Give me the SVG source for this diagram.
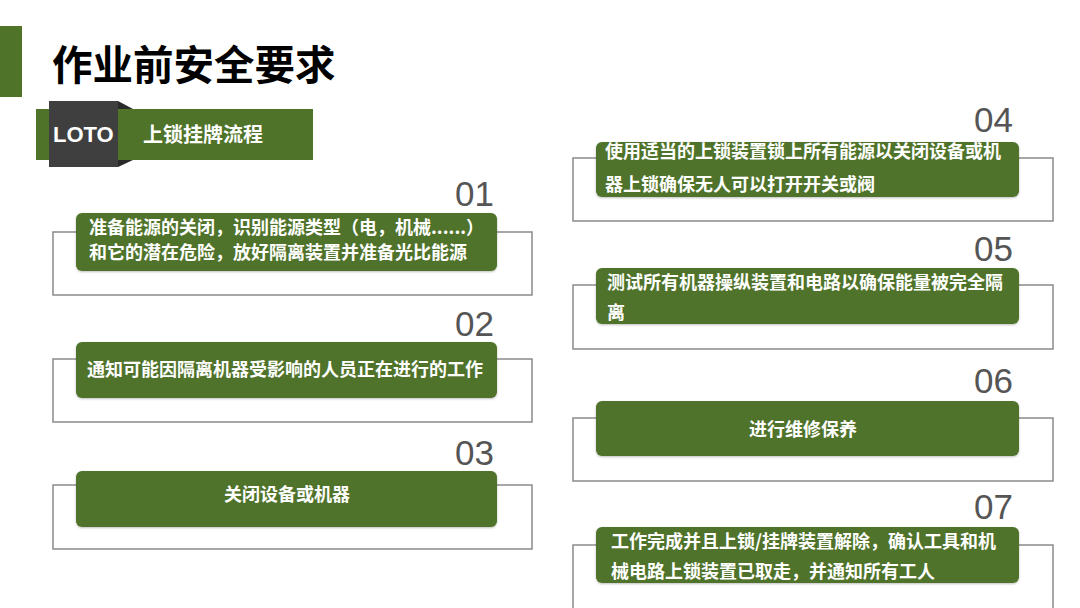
<svg xmlns="http://www.w3.org/2000/svg" width="1080" height="608" viewBox="0 0 1080 608">
<defs>
<style>
.outline{fill:#ffffff;stroke:#8a8a8a;stroke-width:1.5}
.pill{fill:#4f7329;filter:url(#sh)}
.num{font-family:"Liberation Sans",Arial,sans-serif;font-size:35px;fill:#555555;text-anchor:end}
.t{font-family:"Noto Sans CJK SC","Noto Sans",sans-serif;font-weight:bold;font-size:18px;fill:#ffffff}
.tc{text-anchor:middle}
</style>
<filter id="sh" x="-5%" y="-20%" width="110%" height="140%">
<feDropShadow dx="0" dy="1" stdDeviation="1.2" flood-color="#000" flood-opacity="0.25"/>
</filter>
</defs>
<rect width="1080" height="608" fill="#ffffff"/>
<g id="header">
<rect x="0" y="26" width="22" height="71" fill="#4f7329"/>
<text x="52" y="80" font-family="'Noto Sans CJK SC','Noto Sans',sans-serif" font-weight="bold" font-size="40.5" fill="#000">作业前安全要求</text>
</g>
<g id="loto-badge">
<rect x="36" y="109" width="277" height="51" fill="#4f7329"/>
<polygon points="118,101 133,109 118,109" fill="#2a2a2a"/>
<polygon points="118,167 133,160 118,160" fill="#2a2a2a"/>
<rect x="49" y="101" width="69" height="66" fill="#3f3f3f"/>
<text x="53" y="142" font-family="'Liberation Sans',Arial,sans-serif" font-weight="bold" font-size="22" fill="#fff">LOTO</text>
<text x="143" y="142" font-family="'Noto Sans CJK SC','Noto Sans',sans-serif" font-weight="bold" font-size="20" fill="#fff">上锁挂牌流程</text>
</g>
<g id="step01">
<rect class="outline" x="53" y="232" width="479" height="63"/>
<text class="num" x="494" y="206">01</text>
<rect class="pill" x="76" y="213" width="421" height="58" rx="6"/>
<text class="t" x="89" y="234">准备能源的关闭，识别能源类型（电，机械......）</text>
<text class="t" x="89" y="259">和它的潜在危险，放好隔离装置并准备光比能源</text>
</g>
<g id="step02">
<rect class="outline" x="53" y="359" width="479" height="63"/>
<text class="num" x="494" y="336">02</text>
<rect class="pill" x="76" y="342" width="421" height="56" rx="6"/>
<text class="t" x="87" y="376">通知可能因隔离机器受影响的人员正在进行的工作</text>
</g>
<g id="step03">
<rect class="outline" x="53" y="485" width="479" height="64"/>
<text class="num" x="494" y="465">03</text>
<rect class="pill" x="76" y="471" width="421" height="56" rx="6"/>
<text class="t tc" x="287" y="501">关闭设备或机器</text>
</g>
<g id="step04">
<rect class="outline" x="573" y="158" width="480" height="63"/>
<text class="num" x="1013" y="132">04</text>
<rect class="pill" x="596" y="142" width="423" height="55" rx="6"/>
<text class="t" x="605" y="158">使用适当的上锁装置锁上所有能源以关闭设备或机</text>
<text class="t" x="605" y="191">器上锁确保无人可以打开开关或阀</text>
</g>
<g id="step05">
<rect class="outline" x="573" y="285" width="480" height="64"/>
<text class="num" x="1013" y="261">05</text>
<rect class="pill" x="596" y="268" width="423" height="56" rx="6"/>
<text class="t" x="607" y="289">测试所有机器操纵装置和电路以确保能量被完全隔</text>
<text class="t" x="607" y="319">离</text>
</g>
<g id="step06">
<rect class="outline" x="573" y="418" width="480" height="63"/>
<text class="num" x="1013" y="393">06</text>
<rect class="pill" x="596" y="401" width="423" height="55" rx="6"/>
<text class="t tc" x="803" y="436">进行维修保养</text>
</g>
<g id="step07">
<rect class="outline" x="573" y="545" width="480" height="80"/>
<text class="num" x="1013" y="519">07</text>
<rect class="pill" x="596" y="527" width="423" height="56" rx="6"/>
<text class="t" x="611" y="548">工作完成并且上锁/挂牌装置解除，确认工具和机</text>
<text class="t" x="611" y="578">械电路上锁装置已取走，并通知所有工人</text>
</g>
<g id="connectors"/>
</svg>
